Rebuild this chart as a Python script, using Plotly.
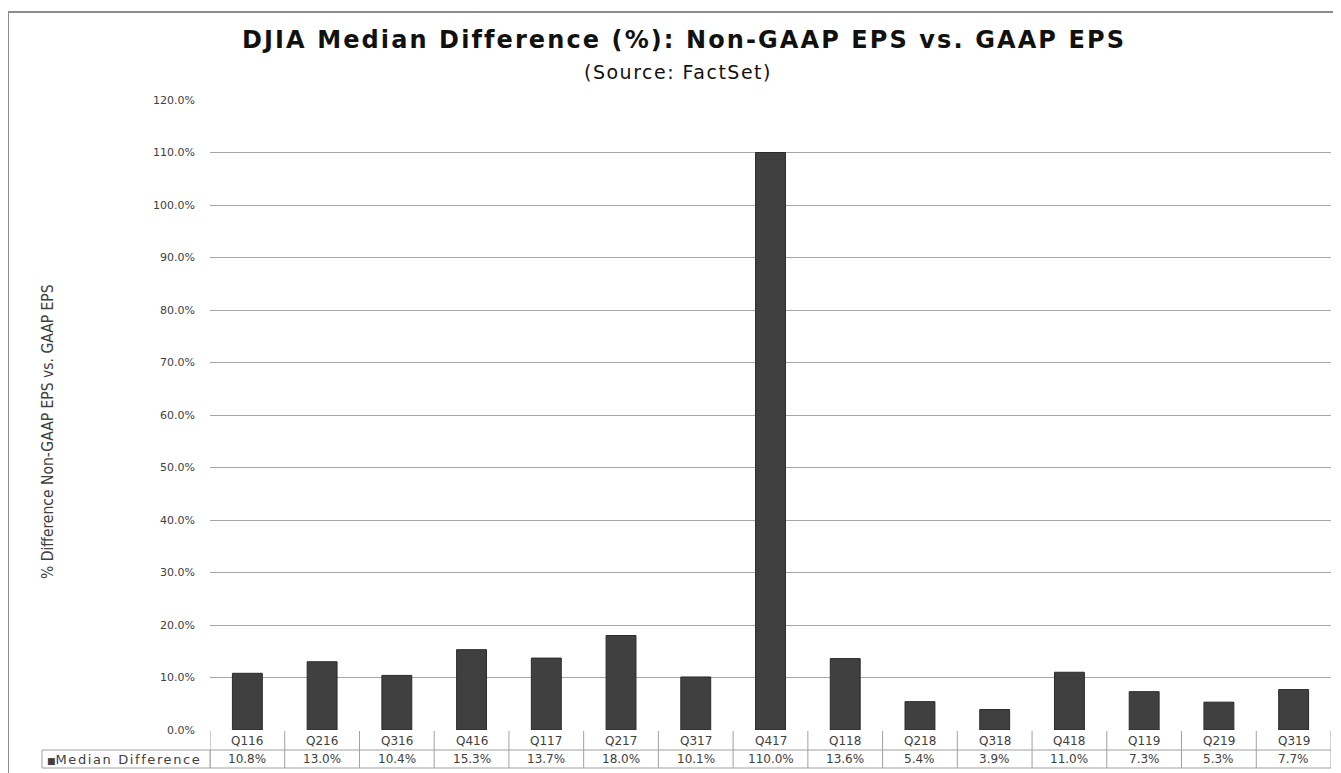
import plotly.graph_objects as go

categories = ["Q116", "Q216", "Q316", "Q416", "Q117", "Q217", "Q317", "Q417",
              "Q118", "Q218", "Q318", "Q418", "Q119", "Q219", "Q319"]
median_diff = [10.8, 13.0, 10.4, 15.3, 13.7, 18.0, 10.1, 110.0,
               13.6, 5.4, 3.9, 11.0, 7.3, 5.3, 7.7]
y_ticks = [0, 10, 20, 30, 40, 50, 60, 70, 80, 90, 100, 110, 120]
series_name = "Median Difference"
title = "DJIA Median Difference (%): Non-GAAP EPS vs. GAAP EPS"
subtitle = "(Source: FactSet)"
y_title = "% Difference Non-GAAP EPS vs. GAAP EPS"

# page body has an 8px margin; work in reference-pixel coordinates and shift
OFF = 8
W, H = 1341 - OFF, 773 - OFF
PL, PR, PT, PB = 210, 1331, 100, 730          # plot area in reference pixels
ML, MR, MT, MB = PL - OFF, (W + OFF) - PR, PT - OFF, (H + OFF) - PB
PW, PH = PR - PL, PB - PT


def px(xp):
    return (xp - PL) / PW


def py(yp):
    return (PB - yp) / PH


FONT = "DejaVu Sans, Verdana, sans-serif"
NARROW = "Liberation Sans Narrow, Arial Narrow, DejaVu Sans Condensed, sans-serif"
BAR = "#404040"
GRID = "#a6a6a6"
TXT = "#404040"
LINE = "#a0a0a0"

fig = go.Figure()
fig.add_trace(go.Bar(
    x=categories, y=median_diff, name=series_name, width=0.4,
    marker=dict(color=BAR, line=dict(color="#2a2a2a", width=1)),
    showlegend=False,
))

shapes = []
annotations = []

# outer frame
shapes.append(dict(type="rect", xref="paper", yref="paper",
                   x0=px(8), x1=px(1338), y0=py(800), y1=py(12),
                   line=dict(color="#8c8c8c", width=2), layer="below"))

n = len(categories)
r0, r1, r2 = py(731), py(750), py(768)
for i in range(n + 1):
    xv = i - 0.5
    shapes.append(dict(type="line", xref="x", yref="paper", x0=xv, x1=xv,
                       y0=r2, y1=r0, line=dict(color=LINE, width=1)))
shapes.append(dict(type="line", xref="x", yref="paper", x0=-0.5, x1=n - 0.5,
                   y0=r1, y1=r1, line=dict(color=LINE, width=1)))
shapes.append(dict(type="line", xref="x", yref="paper", x0=-0.5, x1=n - 0.5,
                   y0=r2, y1=r2, line=dict(color=LINE, width=1)))
shapes.append(dict(type="rect", xref="paper", yref="paper",
                   x0=px(42), x1=0, y0=r2, y1=r1,
                   line=dict(color=LINE, width=1)))

for c, v in zip(categories, median_diff):
    annotations.append(dict(x=c, xref="x", y=(r0 + r1) / 2, yref="paper",
                            text=c, showarrow=False, yanchor="middle",
                            font=dict(family=FONT, size=12, color=TXT)))
    annotations.append(dict(x=c, xref="x", y=(r1 + r2) / 2, yref="paper",
                            text=f"{v:.1f}%", showarrow=False, yanchor="middle",
                            font=dict(family=FONT, size=12, color=TXT)))

annotations.append(dict(x=px(45), xref="paper", y=(r1 + r2) / 2, yref="paper",
                        text=(f"<span style='font-size:9px;color:{BAR}'>■</span>"
                              f"<span style='letter-spacing:1.6px'>{series_name}</span>"),
                        showarrow=False, yanchor="middle", xanchor="left",
                        font=dict(family=FONT, size=13, color=TXT)))

annotations.append(dict(x=px(684), xref="paper", y=py(40), yref="paper",
                        text=f"<b><span style='letter-spacing:2.1px'>{title}</span></b>",
                        showarrow=False, yanchor="middle", xanchor="center",
                        font=dict(family=FONT, size=24, color="#111111")))
annotations.append(dict(x=px(678), xref="paper", y=py(72), yref="paper",
                        text=f"<span style='letter-spacing:1.5px'>{subtitle}</span>",
                        showarrow=False, yanchor="middle", xanchor="center",
                        font=dict(family=FONT, size=19, color="#111111")))
annotations.append(dict(x=px(48), xref="paper", y=py(432), yref="paper",
                        text=y_title, showarrow=False, textangle=-90,
                        yanchor="middle", xanchor="center",
                        font=dict(family=NARROW, size=15.5, color=TXT)))

fig.update_layout(
    width=W, height=H,
    margin=dict(l=ML, r=MR, t=MT, b=MB),
    paper_bgcolor="white", plot_bgcolor="white",
    shapes=shapes,
    annotations=annotations,
    xaxis=dict(type="category", range=[-0.5, n - 0.5], showticklabels=False,
               showgrid=False, zeroline=False, showline=False, ticks=""),
    yaxis=dict(range=[0, 120], tickvals=y_ticks,
               ticktext=[f"{t:.1f}%" for t in y_ticks],
               showgrid=True, gridcolor=GRID, gridwidth=1,
               zeroline=False, showline=False, ticks="",
               ticklabelstandoff=14,
               tickfont=dict(family=FONT, size=11, color=TXT)),
)

fig.write_html("out.html")
